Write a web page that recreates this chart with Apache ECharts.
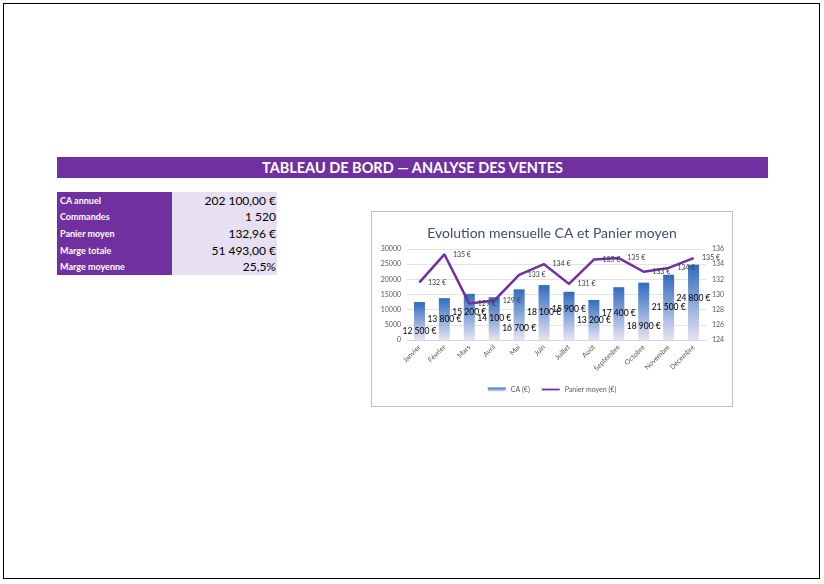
<!DOCTYPE html>
<html>
<head>
<meta charset="utf-8">
<script src="https://cdn.jsdelivr.net/npm/echarts@6/dist/echarts.min.js"></script>
<style>
  body { margin: 0; background: #fff; font-family: Lato, "Open Sans", sans-serif; }
  #page { position: absolute; left: 3px; top: 3px; width: 817px; height: 576px; border: 1px solid #000; box-sizing: border-box; }
  #banner { position: absolute; left: 57px; top: 157px; width: 711px; height: 21px; background: #7030A0; color: #fff;
            font-weight: bold; font-size: 14.5px; line-height: 21px; text-align: center; }
  #kpi { position: absolute; left: 57px; top: 192px; border-collapse: collapse; }
  #kpi td { height: 16.6px; padding: 0 3px; }
  #kpi td.k { width: 109px; background: #7030A0; color: #fff; font-weight: bold; font-size: 9px; }
  #kpi td.v { width: 101px; padding-right: 1px; background: #E6E0F2; color: #000; font-size: 12px; text-align: right; }
  #myChart1 { position: absolute; left: 371px; top: 211px; width: 362px; height: 196px; border: 1px solid #BFBFBF; box-sizing: border-box; }
</style>
</head>
<body>
<div id="page"></div>
<div id="banner">TABLEAU DE BORD — ANALYSE DES VENTES</div>
<table id="kpi"></table>
<div id="myChart1"></div>
<script>
var months = ["Janvier", "Février", "Mars", "Avril", "Mai", "Juin", "Juillet", "Août", "Septembre", "Octobre", "Novembre", "Décembre"];
var caValues = [12500, 13800, 15200, 14100, 16700, 18100, 15900, 13200, 17400, 18900, 21500, 24800];
var panierValues = [131.6, 135.3, 128.8, 129.2, 132.6, 134.0, 131.4, 134.6, 134.8, 133.0, 133.5, 134.8];
var kpiLabels = ["CA annuel", "Commandes", "Panier moyen", "Marge totale", "Marge moyenne"];
var kpiValues = ["202 100,00 €", "1 520", "132,96 €", "51 493,00 €", "25,5%"];

// KPI table
var table = document.getElementById("kpi");
kpiLabels.forEach(function (label, i) {
  var tr = document.createElement("tr");
  tr.innerHTML = '<td class="k">' + label + '</td><td class="v">' + kpiValues[i] + '</td>';
  table.appendChild(tr);
});

function euros(v) {
  return Math.round(v).toString().replace(/\B(?=(\d{3})+(?!\d))/g, " ") + " €";
}

// labels in the original were nudged up/down so they don't collide
var labelNudge = [10, 0, -5, 0, 14, 0, -7, 0, 0, 15, 0, -4];

var chartDom = document.getElementById("myChart1");
var myChart = echarts.init(chartDom);
var option;

option = {
  textStyle: { fontFamily: "Lato, 'Open Sans', sans-serif" },
  title: {
    text: "Evolution mensuelle CA et Panier moyen",
    left: "center",
    top: 9,
    textStyle: { fontSize: 14, fontWeight: "normal", color: "#3E4F69" },
  },
  legend: {
    bottom: 8,
    left: "center",
    itemWidth: 18,
    itemHeight: 4,
    itemGap: 12,
    textStyle: { fontSize: 7, color: "#595959" },
    data: [
      { name: "CA (€)", icon: "rect" },
      { name: "Panier moyen (€)", icon: "path://M0,0 L30,0 L30,3 L0,3 Z", itemStyle: { color: "#7030A0" } },
    ],
  },
  grid: { left: 35, right: 26, top: 37, bottom: 66 },
  xAxis: {
    type: "category",
    data: months,
    axisTick: { show: false },
    axisLine: { lineStyle: { color: "#D9D9D9" } },
    axisLabel: { rotate: 45, fontSize: 7, color: "#595959", margin: 6, interval: 0 },
  },
  yAxis: [
    {
      type: "value",
      min: 0,
      max: 30000,
      interval: 5000,
      axisLabel: { fontSize: 7, color: "#595959", margin: 6, formatter: function (v) { return String(v); } },
      splitLine: { lineStyle: { color: "#E3E3E3" } },
    },
    {
      type: "value",
      min: 124,
      max: 136,
      interval: 2,
      axisLabel: { fontSize: 7, color: "#595959", margin: 6 },
      splitLine: { show: false },
    },
  ],
  series: [
    {
      name: "CA (€)",
      type: "bar",
      data: caValues.map(function (v, i) {
        return { value: v, label: { offset: [0, labelNudge[i]] } };
      }),
      barWidth: 11,
      itemStyle: {
        color: new echarts.graphic.LinearGradient(0, 0, 0, 1, [
          { offset: 0, color: "#2F6CBE" },
          { offset: 1, color: "#E6E3F4" },
        ]),
      },
      label: {
        show: true,
        position: "inside",
        fontSize: 8.5,
        color: "#000",
        formatter: function (p) { return euros(p.value); },
      },
    },
    {
      name: "Panier moyen (€)",
      type: "line",
      yAxisIndex: 1,
      data: panierValues,
      symbol: "circle",
      symbolSize: 1,
      showSymbol: true,
      lineStyle: { color: "#7030A0", width: 2.5 },
      itemStyle: { color: "#7030A0" },
      label: {
        show: true,
        position: "right",
        distance: 8,
        fontSize: 7,
        color: "#404040",
        formatter: function (p) { return Math.round(p.value) + " €"; },
      },
      z: 3,
    },
  ],
};

option && myChart.setOption(option);
</script>
</body>
</html>
